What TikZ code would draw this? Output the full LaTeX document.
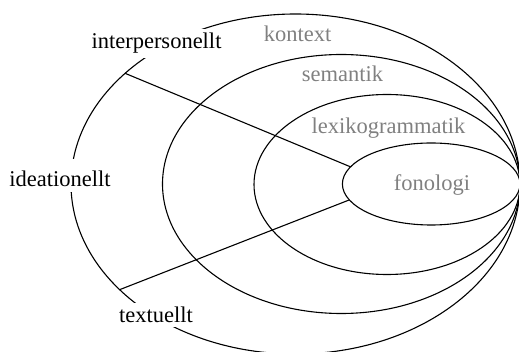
\documentclass[tikz,border=0pt]{standalone}
\usepackage{fontspec}
\setmainfont{Liberation Serif}
\usetikzlibrary{shapes.geometric}
\definecolor{labelgray}{RGB}{128,128,128}
\begin{document}
\begin{tikzpicture}[x=1pt,y=-1pt,
  stratum/.style={ellipse, draw, line width=1.1pt, inner sep=0pt, outer sep=0pt},
  metafn/.style={font=\fontsize{22.5}{27}\selectfont, fill=white, inner sep=4pt, anchor=base},
  level/.style={font=\fontsize{22.5}{27}\selectfont, text=labelgray, inner sep=2pt, anchor=base},
  conn/.style={line width=1.1pt}]
\useasboundingbox (0,0) rectangle (519,352);

% nested strata, all touching at the right
\node[stratum, minimum width=449pt,   minimum height=340pt] (kon) at (295.5,184) {};
\node[stratum, minimum width=357.5pt, minimum height=259pt] (sem) at (341.25,184) {};
\node[stratum, minimum width=266pt,   minimum height=180pt] (lex) at (387,184.5) {};
\node[stratum, minimum width=177.6pt, minimum height=82pt]  (fon) at (431.2,184) {};

% boundaries of the metafunctions
\draw[conn] (kon.147.8) -- (fon.168.2);
\draw[conn] (kon.211.4) -- (fon.191);

% metafunction labels
\node[metafn] (ip)  at (156.5,49) {interpersonellt};
\node[metafn, text height=24pt, text depth=1pt] (id) at (60,187) {ideationellt};
\node[metafn] (tx)  at (156,323) {textuellt};

% strata labels
\node[level] (lk) at (297.5,42)  {kontext};
\node[level] (ls) at (342.5,82)  {semantik};
\node[level] (ll) at (388.5,134) {lexikogrammatik};
\node[level] (lf) at (432,191)   {fonologi};
\end{tikzpicture}
\end{document}
